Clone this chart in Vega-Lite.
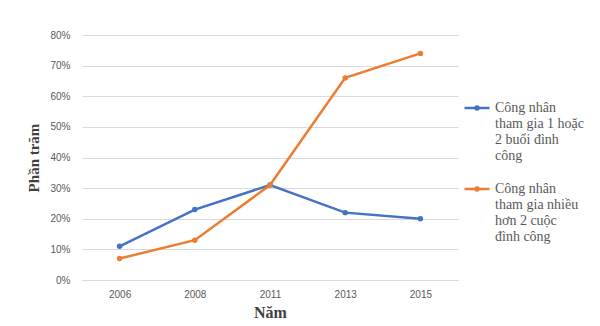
{
  "$schema": "https://vega.github.io/schema/vega-lite/v6.json",
  "autosize": "none",
  "width": 376,
  "height": 245,
  "padding": {"left": 82, "top": 35, "right": 142, "bottom": 46},
  "background": "white",
  "data": {
    "values": [
      {"year": "2006", "series": "Công nhân|tham gia 1 hoặc|2 buổi đình|công", "value": 0.11},
      {"year": "2008", "series": "Công nhân|tham gia 1 hoặc|2 buổi đình|công", "value": 0.23},
      {"year": "2011", "series": "Công nhân|tham gia 1 hoặc|2 buổi đình|công", "value": 0.31},
      {"year": "2013", "series": "Công nhân|tham gia 1 hoặc|2 buổi đình|công", "value": 0.22},
      {"year": "2015", "series": "Công nhân|tham gia 1 hoặc|2 buổi đình|công", "value": 0.20},
      {"year": "2006", "series": "Công nhân|tham gia nhiều|hơn 2 cuộc|đình công", "value": 0.07},
      {"year": "2008", "series": "Công nhân|tham gia nhiều|hơn 2 cuộc|đình công", "value": 0.13},
      {"year": "2011", "series": "Công nhân|tham gia nhiều|hơn 2 cuộc|đình công", "value": 0.31},
      {"year": "2013", "series": "Công nhân|tham gia nhiều|hơn 2 cuộc|đình công", "value": 0.66},
      {"year": "2015", "series": "Công nhân|tham gia nhiều|hơn 2 cuộc|đình công", "value": 0.74}
    ]
  },
  "mark": {"type": "line", "strokeWidth": 2.5, "point": {"size": 30, "filled": true, "opacity": 1}},
  "encoding": {
    "x": {
      "field": "year", "type": "ordinal",
      "axis": {
        "title": "Năm", "labelAngle": 0, "ticks": false, "domainColor": "#d9d9d9", "domainWidth": 1,
        "labelFont": "Liberation Sans", "labelFontSize": 10, "labelColor": "#595959", "labelPadding": 9,
        "titleFont": "Liberation Serif", "titleFontSize": 16, "titleFontWeight": "bold", "titleColor": "#404040", "titlePadding": 5
      }
    },
    "y": {
      "field": "value", "type": "quantitative",
      "scale": {"domain": [0, 0.8]},
      "axis": {
        "title": "Phần trăm", "values": [0, 0.1, 0.2, 0.3, 0.4, 0.5, 0.6, 0.7, 0.8], "format": ".0%",
        "domain": false, "ticks": false, "gridColor": "#d9d9d9",
        "labelFont": "Liberation Sans", "labelFontSize": 10, "labelColor": "#595959", "labelPadding": 12,
        "titleFont": "Liberation Serif", "titleFontSize": 15, "titleFontWeight": "bold", "titleColor": "#404040", "titlePadding": 8
      }
    },
    "color": {
      "field": "series", "type": "nominal",
      "scale": {"range": ["#4472C4", "#ED7D31"]},
      "legend": {
        "title": null, "orient": "none", "legendX": 381, "legendY": 59,
        "symbolType": "M-1,0L1,0M-0.12,0A0.12,0.12 0 1,1 0.12,0A0.12,0.12 0 1,1 -0.12,0",
        "symbolSize": 625, "symbolStrokeWidth": 2.5,
        "labelExpr": "split(datum.label, '|')",
        "labelFont": "serif", "labelFontSize": 14, "labelColor": "#595959",
        "labelLimit": 0, "labelOffset": 4, "rowPadding": 12
      }
    }
  },
  "config": {"view": {"stroke": null}}
}
